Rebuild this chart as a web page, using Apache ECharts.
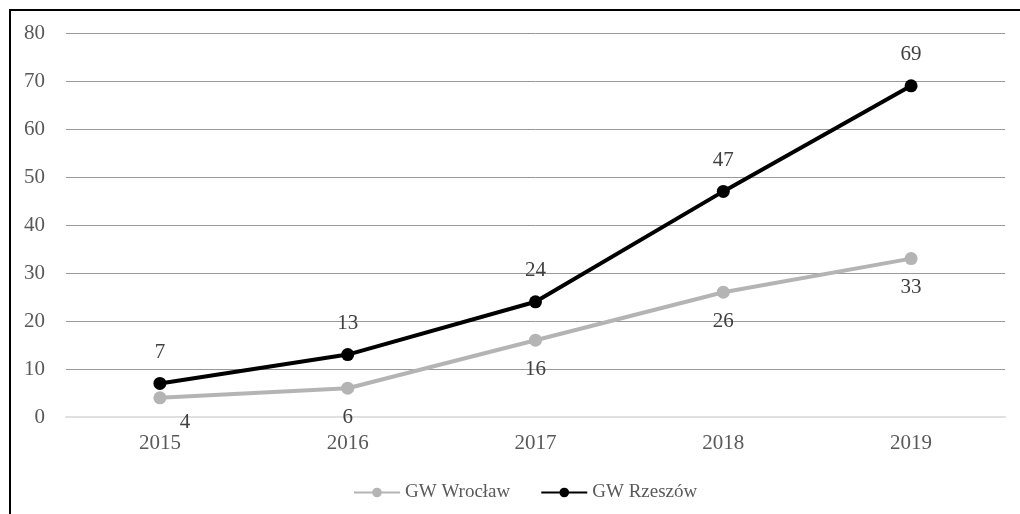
<!DOCTYPE html>
<html><head><meta charset="utf-8">
<script src="https://cdn.jsdelivr.net/npm/echarts@6/dist/echarts.min.js"></script>
<style>html,body{margin:0;padding:0;background:#fff}#c{width:1020px;height:514px}</style>
</head><body><div id="c"></div>
<script>
const categories = ['2015','2016','2017','2018','2019'];
const wroclaw = [4, 6, 16, 26, 33];
const rzeszow = [7, 13, 24, 47, 69];
const seriesNames = ['GW Wrocław', 'GW Rzeszów'];

const font = '"Liberation Serif", "Times New Roman", serif';
const chart = echarts.init(document.getElementById('c'), null, {renderer: 'canvas'});
const wroclawData = wroclaw.map((v, i) => i === 0 ? {value: v, label: {offset: [25, -4]}} : v);
chart.setOption({
  backgroundColor: '#fff',
  animation: false,
  grid: {left: 66, right: 15, top: 33, bottom: 97, containLabel: false},
  graphic: [{type: 'rect', shape: {x: 10, y: 10, width: 1100, height: 700}, style: {fill: 'none', stroke: '#000', lineWidth: 2}, z: 100}],
  legend: {
    top: 478, left: 348, itemWidth: 46, itemHeight: 12, itemGap: 30,
    textStyle: {fontFamily: font, fontSize: 19, color: '#595959'},
    data: seriesNames
  },
  xAxis: {
    type: 'category', data: categories, boundaryGap: true,
    axisLine: {show: true, lineStyle: {color: '#e0e0e0', width: 2}},
    axisTick: {show: false},
    axisLabel: {fontFamily: font, fontSize: 21, color: '#595959', margin: 16}
  },
  yAxis: {
    type: 'value', min: 0, max: 80, interval: 10,
    axisLine: {show: false}, axisTick: {show: false},
    axisLabel: {fontFamily: font, fontSize: 21, color: '#595959', margin: 21},
    splitLine: {lineStyle: {color: '#999999', width: 1}}
  },
  series: [
    {name: seriesNames[0], type: 'line', data: wroclawData, symbol: 'circle', symbolSize: 13,
     lineStyle: {color: '#b4b4b4', width: 4}, itemStyle: {color: '#b4b4b4'},
     label: {show: true, position: 'bottom', distance: 12, fontFamily: font, fontSize: 21, color: '#404040'}},
    {name: seriesNames[1], type: 'line', data: rzeszow, symbol: 'circle', symbolSize: 13,
     lineStyle: {color: '#000', width: 4}, itemStyle: {color: '#000'},
     label: {show: true, position: 'top', distance: 14, fontFamily: font, fontSize: 21, color: '#404040'}}
  ]
});
</script></body></html>
